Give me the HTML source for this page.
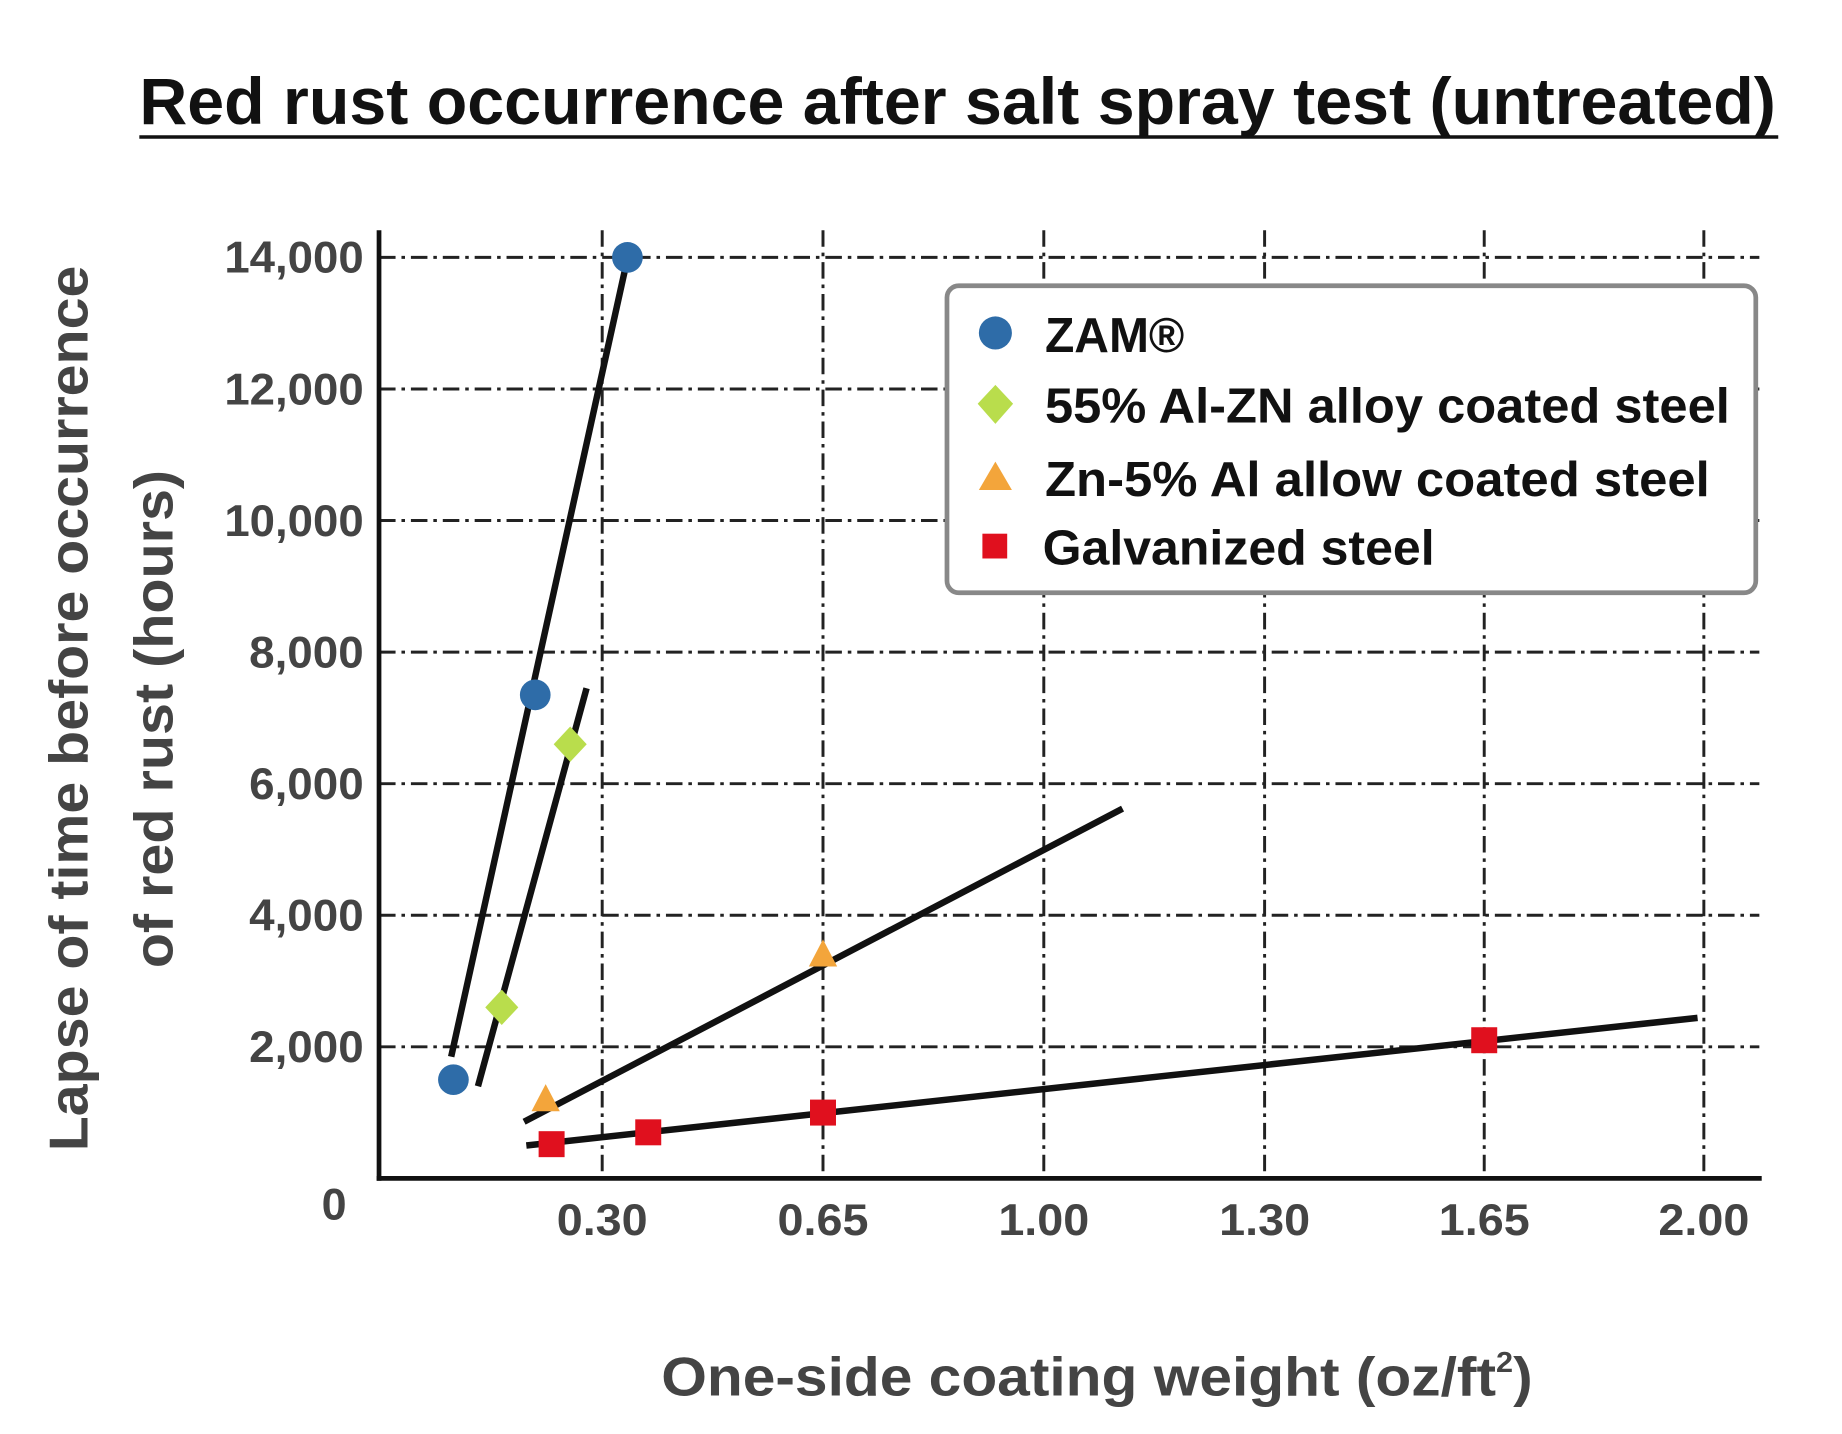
<!DOCTYPE html>
<html><head><meta charset="utf-8"><style>
html,body{margin:0;padding:0;background:#fff;}
svg{display:block;}
text{font-family:"Liberation Sans Narrow","Liberation Sans",sans-serif;font-weight:bold;}
</style></head><body>
<svg id="chart" width="1842" height="1434" viewBox="0 0 1560 1214.5" preserveAspectRatio="none" xmlns="http://www.w3.org/2000/svg">
<rect width="1560" height="1214.5" fill="#fff"/>
<text x="118" y="105" font-size="56" fill="#111" textLength="1386" lengthAdjust="spacingAndGlyphs">Red rust occurrence after salt spray test (untreated)</text>
<line x1="118" y1="116" x2="1506" y2="116" stroke="#111" stroke-width="3"/>
<g id="grid"></g>
<g id="axes"></g>
<g id="series"></g>
<g>
<rect x="802" y="242" width="685" height="260" rx="10" fill="#fff" stroke="#888" stroke-width="4"/>
<circle cx="843" cy="282" r="14" fill="#2e6ca8"/>
<text x="885" y="298" font-size="42" fill="#111" textLength="118" lengthAdjust="spacingAndGlyphs">ZAM®</text>
<polygon points="843,326 858,342 843,359 828,342" fill="#b9dd4c"/>
<text x="885" y="358" font-size="42" fill="#111" textLength="580" lengthAdjust="spacingAndGlyphs">55% Al-ZN alloy coated steel</text>
<polygon points="843,391 857,415 829,415" fill="#f3a53b"/>
<text x="885" y="420" font-size="42" fill="#111" textLength="563" lengthAdjust="spacingAndGlyphs">Zn-5% Al allow coated steel</text>
<rect x="832" y="452" width="21" height="21" fill="#e0101e"/>
<text x="883" y="478" font-size="42" fill="#111" textLength="332" lengthAdjust="spacingAndGlyphs">Galvanized steel</text>
</g>
<text transform="translate(74,600) rotate(-90)" text-anchor="middle" font-size="46" fill="#444" textLength="750" lengthAdjust="spacingAndGlyphs">Lapse of time before occurrence</text>
<text transform="translate(146,609) rotate(-90)" text-anchor="middle" font-size="46" fill="#444" textLength="422" lengthAdjust="spacingAndGlyphs">of red rust (hours)</text>
<text x="560" y="1182" font-size="46" fill="#444" textLength="738" lengthAdjust="spacingAndGlyphs">One-side coating weight (oz/ft<tspan font-size="24" dy="-20">2</tspan><tspan dy="20">)</tspan></text>
</svg>
<script>
const xTicks=[0.30,0.65,1.00,1.30,1.65,2.00];
const xTickLabels=["0.30","0.65","1.00","1.30","1.65","2.00"];
const yTicks=[2000,4000,6000,8000,10000,12000,14000];
const yTickLabels=["2,000","4,000","6,000","8,000","10,000","12,000","14,000"];
const zamX=[0.10,0.21,0.34];
const zamY=[1500,7350,14000];
const alznX=[0.165,0.257];
const alznY=[2600,6600];
const zn5X=[0.224,0.65];
const zn5Y=[1200,3400];
const galvX=[0.232,0.373,0.65,1.65];
const galvY=[520,700,1000,2100];
// trend line endpoints [x0,y0,x1,y1] in data units
const zamFit=[0.097,1850,0.337,13850];
const alznFit=[0.133,1400,0.279,7450];
const zn5Fit=[0.195,860,1.107,5620];
const galvFit=[0.198,500,1.99,2440];

const NS="http://www.w3.org/2000/svg";
const X0=321,Y0=998,XR=1492,YT=195;
const xKnots=[0,0.30,0.65,1.00,1.30,1.65,2.00];
const xPix=[321,510,697,884,1071,1257,1443];
function xs(v){for(let i=0;i<xKnots.length-1;i++){if(v<=xKnots[i+1]||i===xKnots.length-2){const t=(v-xKnots[i])/(xKnots[i+1]-xKnots[i]);return xPix[i]+t*(xPix[i+1]-xPix[i]);}}}
function ys(v){return Y0-v*(Y0-218)/14000;}
function mk(tag,attrs,parent){const e=document.createElementNS(NS,tag);for(const k in attrs)e.setAttribute(k,attrs[k]);parent.appendChild(e);return e;}
const grid=document.getElementById('grid'),axes=document.getElementById('axes'),ser=document.getElementById('series');
yTicks.forEach((v,i)=>{
 const l=mk('line',{x1:X0,y1:ys(v),x2:1490,y2:ys(v),stroke:'#222','stroke-width':2.5,'stroke-dasharray':'14 5 3 5'},grid);
 
 
 const lab=yTickLabels[i];
 const t=mk('text',{x:308,y:ys(v)+13,'text-anchor':'end','font-size':38,fill:'#444',textLength:lab.length>5?118:97,lengthAdjust:'spacingAndGlyphs'},axes);
 t.textContent=lab;
 
 
});
xTicks.forEach((v,i)=>{
 const l=mk('line',{x1:xs(v),y1:YT,x2:xs(v),y2:Y0,stroke:'#222','stroke-width':2.5,'stroke-dasharray':'14 5 3 5'},grid);
 
 
 const t=mk('text',{x:xs(v),y:1046,'text-anchor':'middle','font-size':38,fill:'#444',textLength:77,lengthAdjust:'spacingAndGlyphs'},axes);
 t.textContent=xTickLabels[i];
 
 
});
const z=mk('text',{x:283,y:1033,'text-anchor':'middle','font-size':38,fill:'#444'},axes);
z.textContent='0';


const ya=mk('line',{x1:X0,y1:YT,x2:X0,y2:Y0+2,stroke:'#111','stroke-width':4},axes);


const xa=mk('line',{x1:X0-2,y1:Y0,x2:XR,y2:Y0,stroke:'#111','stroke-width':4},axes);


function fit(f,name){const l=mk('line',{x1:xs(f[0]),y1:ys(f[1]),x2:xs(f[2]),y2:ys(f[3]),stroke:'#111','stroke-width':5.5},ser);
 
 }
fit(zamFit,'zam-trendline');fit(alznFit,'alzn-trendline');fit(zn5Fit,'zn5-trendline');fit(galvFit,'galv-trendline');
zamX.forEach((x,i)=>{const c=mk('circle',{cx:xs(x),cy:ys(zamY[i]),r:13,fill:'#2e6ca8'},ser);
 
 });
alznX.forEach((x,i)=>{const cx=xs(x),cy=ys(alznY[i]);const p=mk('polygon',{points:`${cx},${cy-15} ${cx+14},${cy} ${cx},${cy+15} ${cx-14},${cy}`,fill:'#b9dd4c'},ser);
 
 });
zn5X.forEach((x,i)=>{const cx=xs(x),cy=ys(zn5Y[i]);const p=mk('polygon',{points:`${cx},${cy-13} ${cx+12},${cy+10} ${cx-12},${cy+10}`,fill:'#f3a53b'},ser);
 
 });
galvX.forEach((x,i)=>{const cx=xs(x),cy=ys(galvY[i]);const r=mk('rect',{x:cx-11,y:cy-11,width:22,height:22,fill:'#e0101e'},ser);
 
 });
</script>
</body></html>
